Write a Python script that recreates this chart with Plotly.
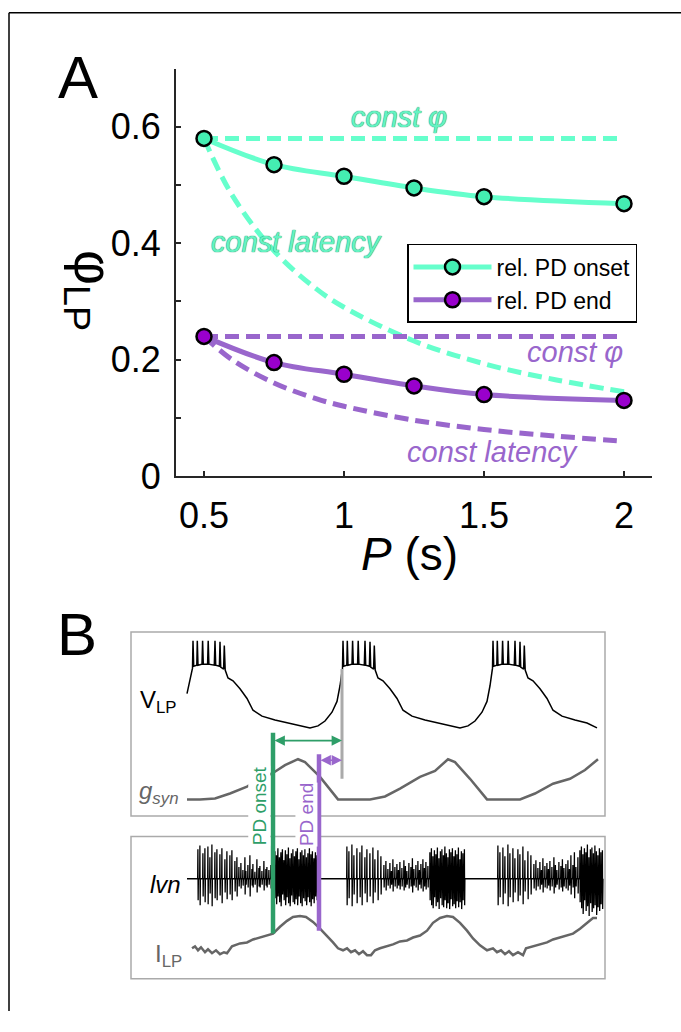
import plotly.graph_objects as go

W, H = 681, 1032
FONT = "Arial, 'Liberation Sans', sans-serif"

# ---------------- Panel A data ----------------
P = [0.5, 0.75, 1.0, 1.25, 1.5, 2.0]
phi_onset = [0.580, 0.535, 0.515, 0.495, 0.480, 0.468]
phi_end = [0.240, 0.195, 0.175, 0.155, 0.140, 0.130]

const_phi_P = [0.5, 2.0]
const_phi_onset = [0.580, 0.580]
const_phi_end = [0.240, 0.240]

const_lat_P = [0.5, 0.6, 0.75, 0.9, 1.0, 1.25, 1.5, 1.75, 2.0]
const_lat_onset = [0.580, 0.483, 0.387, 0.322, 0.290, 0.232, 0.193, 0.166, 0.145]
const_lat_end = [0.240, 0.200, 0.160, 0.133, 0.120, 0.096, 0.080, 0.069, 0.060]

x_ticks = [0.5, 1.0, 1.5, 2.0]
x_ticktext = ["0.5", "1", "1.5", "2"]
y_ticks = [0, 0.1, 0.2, 0.3, 0.4, 0.5, 0.6]
y_ticktext = ["0", "", "0.2", "", "0.4", "", "0.6"]

TEAL_LINE = "#66FFCC"
TEAL_MARK = "#44EEB2"
TEAL_TEXT = "#66F2C2"
PURP_LINE = "#9966CC"
PURP_MARK = "#9900CC"

# ---------------- Panel B data (time in a.u., signal in a.u.) ----------------
vlp_t = [56, 59,
         61.5, 62, 62.7, 65.8, 66.3, 67, 71, 71.6, 72.3, 76.6, 77.2, 77.9,
         83.3, 84, 84.7, 88.4, 89, 89.7, 92.6, 93.3, 94.2,
         97, 102, 109, 116, 122, 131, 144, 156, 169, 179, 187, 194, 201, 206, 209,
         211.5, 212, 212.7, 215.8, 216.3, 217, 221, 221.6, 222.3, 226.6, 227.2, 227.9,
         233.3, 234, 234.7, 238.4, 239, 239.7, 242.6, 243.3, 244.2,
         247, 252, 259, 266, 272, 281, 294, 306, 319, 329, 337, 344, 351, 356, 359,
         361.5, 362, 362.7, 365.8, 366.3, 367, 371, 371.6, 372.3, 376.6, 377.2, 377.9,
         383.3, 384, 384.7, 388.4, 389, 389.7, 392.6, 393.3, 394.2,
         397, 402, 409, 416, 422, 431, 444, 456, 466]
vlp_v = [292, 308,
         318, 346, 320, 321, 346, 321, 322, 346, 322, 322, 346, 322,
         321, 346, 321, 320, 345, 319, 317, 341, 316,
         308, 305, 297, 287, 275, 269, 265, 262, 259, 257, 259, 264, 273, 284, 300,
         318, 346, 320, 321, 346, 321, 322, 346, 322, 322, 346, 322,
         321, 346, 321, 320, 345, 319, 317, 341, 316,
         308, 305, 297, 287, 275, 269, 265, 262, 259, 257, 259, 264, 273, 284, 300,
         318, 346, 320, 321, 346, 321, 322, 346, 322, 322, 346, 322,
         321, 346, 321, 320, 345, 319, 317, 341, 316,
         308, 305, 297, 287, 275, 269, 265, 262, 257]

gsyn_t = [56, 69, 84, 99, 116, 129, 142, 154, 167, 174, 189, 207, 239, 254, 269,
          289, 304, 317, 324, 339, 356, 389, 404, 422, 439, 454, 467]
gsyn_v = [184, 184, 185, 190, 197, 205, 211, 219, 225, 222, 207, 184, 184, 187, 195,
          207, 213, 225, 222, 205, 184, 184, 190, 200, 205, 214, 225]

ilp_t = [61, 64, 67, 70, 74, 77, 81, 85, 89, 93, 96, 101, 109, 116, 122, 129, 136, 142,
         149, 156, 162, 169, 175, 182, 189, 196, 202, 207, 212, 216, 220, 224, 228, 232,
         236, 240, 244, 249, 256, 262, 269, 276, 282, 289, 296, 302, 309, 316, 322, 329,
         336, 342, 349, 356, 362, 366, 370, 374, 378, 382, 387, 392, 395, 402, 409, 416,
         422, 429, 436, 442, 449, 456, 462, 466]
ilp_v = [32, 34, 30, 33, 28, 31, 27, 30, 26, 28, 27, 34, 37, 38, 41, 43, 45, 47,
         54, 60, 64, 65, 64, 59, 52, 45, 38, 32, 30, 32, 28, 30, 26, 29,
         25, 25, 30, 32, 34, 36, 39, 40, 43, 45, 50, 58, 63, 65, 64, 58,
         50, 42, 35, 30, 32, 28, 30, 26, 29, 25, 28, 25, 32, 34, 36, 38,
         41, 43, 45, 47, 52, 58, 63, 63]

lvn_baseline = 103
lvn_start_t, lvn_end_t = 56, 472
lvn_spike_t = [
    67, 69, 72, 74, 77, 79, 81, 84, 86, 89, 91, 94, 96, 99, 101, 104, 106,
    108, 110, 112, 114, 115, 117, 119, 121, 122, 124, 126, 128, 129, 131, 133, 135, 136, 138, 140,
    144, 145.5, 147, 148.5, 150, 151.5, 153, 154.5, 156, 157.5, 159, 160.5, 162, 163.5, 165,
    166.5, 168, 169.5, 171, 172.5, 174, 175.5, 177, 178.5, 180, 181.5, 183, 184.5, 186,
    216, 218, 221, 223, 226, 229, 231, 234, 236, 239, 242, 244, 247, 250,
    253, 255, 257, 259, 260.5, 262, 264, 266, 267.5, 269, 271, 273, 274.5, 276, 278, 280,
    281.5, 283, 285, 287, 288.5, 290, 292, 293.5, 295, 297,
    299, 300.5, 302, 303.5, 305, 306.5, 308, 309.5, 311, 312.5, 314, 315.5, 317, 318.5,
    320, 321.5, 323, 324.5, 326, 327.5, 329, 330.5, 332, 333.5,
    367, 369, 372, 374, 377, 379, 382, 384, 387, 389, 392, 394, 397, 400,
    403, 405, 407, 409, 410.5, 412, 414, 416, 417.5, 419, 421, 423, 424.5, 426, 428, 430,
    431.5, 433, 435, 437, 438.5, 440, 442, 443.5, 445, 447,
    449, 450.5, 452, 453.5, 455, 456.5, 458, 459.5, 461, 462.5, 464, 465.5, 467, 468.5, 470, 471.5]
lvn_spike_up = [
    30, 34, 26, 31, 33, 22, 35, 27, 30, 25, 31, 20, 28, 24, 29, 18, 22,
    12, 16, 9, 22, 8, 14, 24, 10, 15, 7, 20, 11, 13, 8, 18, 10, 12, 9, 14,
    28, 24, 31, 22, 27, 30, 19, 29, 25, 32, 21, 26, 30, 23, 28,
    31, 20, 27, 29, 24, 30, 22, 26, 31, 25, 28, 21, 27, 24,
    33, 28, 35, 24, 31, 27, 34, 22, 30, 26, 32, 20, 29, 23,
    14, 18, 10, 16, 8, 20, 12, 15, 9, 17, 11, 19, 13, 8, 16, 12,
    21, 10, 14, 18, 9, 15, 20, 11, 17, 13,
    27, 31, 23, 29, 25, 32, 21, 28, 30, 24, 33, 26, 22, 30,
    27, 31, 23, 29, 25, 32, 20, 28, 26, 30,
    34, 27, 32, 23, 35, 26, 31, 21, 30, 25, 33, 19, 28, 24,
    15, 19, 11, 17, 9, 21, 13, 16, 10, 18, 12, 22, 14, 9, 17, 13,
    20, 11, 15, 19, 10, 24, 14, 27, 12, 22,
    29, 33, 25, 31, 27, 35, 22, 30, 32, 26, 34, 28, 24, 31, 27, 29]
lvn_spike_dn = [
    22, 27, 18, 24, 26, 15, 28, 20, 22, 17, 25, 14, 21, 16, 22, 13, 18,
    8, 10, 7, 16, 6, 9, 18, 7, 9, 6, 14, 8, 9, 6, 12, 7, 9, 6, 10,
    20, 26, 18, 24, 28, 16, 22, 27, 19, 25, 28, 17, 24, 26, 21,
    27, 18, 25, 28, 20, 23, 27, 19, 24, 28, 21, 25, 18, 22,
    27, 20, 28, 16, 25, 19, 27, 15, 24, 18, 25, 14, 22, 16,
    9, 12, 7, 10, 6, 13, 8, 10, 7, 11, 8, 12, 9, 6, 10, 8,
    14, 7, 9, 12, 6, 10, 13, 8, 11, 9,
    22, 27, 30, 19, 28, 24, 31, 20, 27, 29, 22, 30, 25, 31,
    21, 28, 26, 30, 23, 29, 24, 31, 22, 27,
    27, 19, 26, 15, 28, 19, 24, 14, 23, 17, 26, 13, 21, 16,
    10, 12, 8, 11, 6, 14, 9, 10, 7, 12, 8, 15, 9, 6, 11, 9,
    13, 8, 10, 12, 7, 16, 9, 20, 8, 15,
    24, 30, 36, 22, 33, 28, 38, 25, 34, 30, 27, 37, 29, 33, 26, 31]

lp_burst_t = 211          # reference LP burst onset (grey marker)
lp_marker_v = [205, 317]
pd_onset_t = 142
pd_onset_v = [47, 252]
pd_end_t = 188
pd_end_v = [50, 230]
arrow_onset_v = 244
arrow_end_v = 224

GREEN = "#2E9E68"

fig = go.Figure()

# ---------------- Panel A traces ----------------
DASH = "14px,7px"
fig.add_trace(go.Scatter(x=const_phi_P, y=const_phi_onset, mode="lines",
                         line=dict(color=TEAL_LINE, width=5, dash=DASH),
                         showlegend=False, hoverinfo="skip"))
fig.add_trace(go.Scatter(x=const_lat_P, y=const_lat_onset, mode="lines",
                         line=dict(color=TEAL_LINE, width=5, dash=DASH, shape="spline"),
                         showlegend=False, hoverinfo="skip"))
fig.add_trace(go.Scatter(x=const_phi_P, y=const_phi_end, mode="lines",
                         line=dict(color=PURP_LINE, width=5, dash=DASH),
                         showlegend=False, hoverinfo="skip"))
fig.add_trace(go.Scatter(x=const_lat_P, y=const_lat_end, mode="lines",
                         line=dict(color=PURP_LINE, width=5, dash=DASH, shape="spline"),
                         showlegend=False, hoverinfo="skip"))
fig.add_trace(go.Scatter(x=P, y=phi_onset, mode="lines+markers", name="rel. PD onset",
                         line=dict(color=TEAL_LINE, width=5, shape="spline"),
                         marker=dict(size=15, color=TEAL_MARK, line=dict(color="black", width=2.5))))
fig.add_trace(go.Scatter(x=P, y=phi_end, mode="lines+markers", name="rel. PD end",
                         line=dict(color=PURP_LINE, width=5, shape="spline"),
                         marker=dict(size=15, color=PURP_MARK, line=dict(color="black", width=2.5))))

# ---------------- Panel B traces ----------------
lvn_x = [lvn_start_t]
lvn_y = [lvn_baseline]
for t, u, d in zip(lvn_spike_t, lvn_spike_up, lvn_spike_dn):
    lvn_x += [t - 0.35, t - 0.1, t + 0.15, t + 0.4]
    lvn_y += [lvn_baseline, lvn_baseline + u, lvn_baseline - d, lvn_baseline]
lvn_x.append(lvn_end_t)
lvn_y.append(lvn_baseline)

bax = dict(xaxis="x2", yaxis="y2", showlegend=False, hoverinfo="skip", mode="lines")
fig.add_trace(go.Scatter(x=vlp_t, y=vlp_v, line=dict(color="black", width=1.5), **bax))
fig.add_trace(go.Scatter(x=gsyn_t, y=gsyn_v, line=dict(color="#666666", width=2.5), **bax))
fig.add_trace(go.Scatter(x=lvn_x, y=lvn_y, line=dict(color="black", width=1.3), **bax))
fig.add_trace(go.Scatter(x=ilp_t, y=ilp_v, line=dict(color="#666666", width=2.5), **bax))
fig.add_trace(go.Scatter(x=[lp_burst_t, lp_burst_t], y=lp_marker_v,
                         line=dict(color="#AAAAAA", width=3), **bax))
fig.add_trace(go.Scatter(x=[pd_onset_t, pd_onset_t], y=pd_onset_v,
                         line=dict(color=GREEN, width=4.5), **bax))
fig.add_trace(go.Scatter(x=[pd_end_t, pd_end_t], y=pd_end_v,
                         line=dict(color=PURP_LINE, width=4.5), **bax))


def px_x(px):
    return px / W


def px_y(py):
    return 1 - py / H


shapes = [
    # outer frame
    dict(type="line", xref="paper", yref="paper", x0=px_x(9), x1=1.0, y0=px_y(13), y1=px_y(13),
         line=dict(color="black", width=1.5)),
    dict(type="line", xref="paper", yref="paper", x0=px_x(9), x1=px_x(9), y0=px_y(13), y1=0,
         line=dict(color="black", width=1.5)),
    # panel B boxes
    dict(type="rect", xref="paper", yref="paper", x0=px_x(131), x1=px_x(605), y0=px_y(833), y1=px_y(645),
         line=dict(color="#AAAAAA", width=1.5), layer="below"),
    dict(type="rect", xref="paper", yref="paper", x0=px_x(131), x1=px_x(605), y0=px_y(999), y1=px_y(854),
         line=dict(color="#AAAAAA", width=1.5), layer="below"),
]


def label(text, px, py, size, color="black", **kw):
    return dict(text=text, x=px_x(px), y=px_y(py), xref="paper", yref="paper",
                xanchor="center", yanchor="middle", showarrow=False,
                font=dict(size=size, color=color, family=FONT), **kw)


def dlabel(text, x, y, size, color, shadow=None):
    f = dict(size=size, color=color, family=FONT)
    if shadow:
        f["shadow"] = shadow
    return dict(text=text, x=x, y=y, xref="x", yref="y", xanchor="center", yanchor="middle",
                showarrow=False, font=f)


shadow_teal = "0 0 1px #1E9C6C, 0 0 1px #1E9C6C"
annotations = [
    label("A", 78, 79, 60),
    label("B", 77, 648, 60),
    label("φ<sub>LP</sub>", 90, 296, 54, textangle=90),
    label("<i>P</i> (s)", 409, 566, 46),
    dlabel("<i>const φ</i>", 1.198, 0.617, 29, TEAL_TEXT, shadow_teal),
    dlabel("<i>const latency</i>", 0.83, 0.402, 29, TEAL_TEXT, shadow_teal),
    dlabel("<i>const φ</i>", 1.825, 0.214, 29, PURP_LINE),
    dlabel("<i>const latency</i>", 1.53, 0.042, 29, PURP_LINE),
    # Panel B labels
    label("V<sub>LP</sub>", 158, 716, 24),
    label("<i>g<sub>syn</sub></i>", 158, 809, 24, "#666666"),
    label("<i>lvn</i>", 165, 903, 24),
    label("I<sub>LP</sub>", 168, 975, 24, "#666666"),
    label("PD onset", 259, 823, 19, GREEN, textangle=-90, bgcolor="white", borderpad=0),
    label("PD end", 306, 832, 19, PURP_LINE, textangle=-90, bgcolor="white", borderpad=0),
    # arrows
    dict(text="", x=lp_burst_t, y=arrow_onset_v, ax=pd_onset_t, ay=arrow_onset_v,
         xref="x2", yref="y2", axref="x2", ayref="y2", showarrow=True,
         arrowhead=2, arrowside="end+start", arrowsize=1.3, arrowwidth=1.6, arrowcolor=GREEN),
    dict(text="", x=lp_burst_t, y=arrow_end_v, ax=pd_end_t, ay=arrow_end_v,
         xref="x2", yref="y2", axref="x2", ayref="y2", showarrow=True,
         arrowhead=2, arrowside="end+start", arrowsize=1.3, arrowwidth=1.6, arrowcolor=PURP_LINE),
]

fig.update_layout(
    width=W, height=H,
    margin=dict(l=0, r=0, t=0, b=0),
    paper_bgcolor="white", plot_bgcolor="white",
    font=dict(family=FONT, color="black"),
    xaxis=dict(domain=[px_x(176), px_x(652)], range=[0.4, 2.1],
               tickvals=x_ticks, ticktext=x_ticktext, ticks="inside", ticklen=5, tickwidth=2,
               tickcolor="#262626", showline=True, linewidth=2, linecolor="#262626",
               showgrid=False, zeroline=False, tickfont=dict(size=36, color="black"),
               ticklabelstandoff=7),
    yaxis=dict(domain=[px_y(486), px_y(70)], range=[0, 0.7],
               tickvals=y_ticks, ticktext=y_ticktext, ticks="inside", ticklen=5, tickwidth=2,
               tickcolor="#262626", showline=True, linewidth=2, linecolor="#262626",
               showgrid=False, zeroline=False, tickfont=dict(size=36, color="black"),
               ticklabelstandoff=6),
    xaxis2=dict(domain=[px_x(131), px_x(605)], range=[0, 474], visible=False, anchor="y2"),
    yaxis2=dict(domain=[px_y(1000), px_y(645)], range=[0, 355], visible=False, anchor="x2"),
    legend=dict(x=px_x(407), y=px_y(249), xanchor="left", yanchor="top",
                bgcolor="white", bordercolor="black", borderwidth=1.5,
                font=dict(size=23, color="black", family=FONT),
                itemwidth=78, tracegroupgap=0),
    shapes=shapes,
    annotations=annotations,
)

fig.write_html("out.html")
